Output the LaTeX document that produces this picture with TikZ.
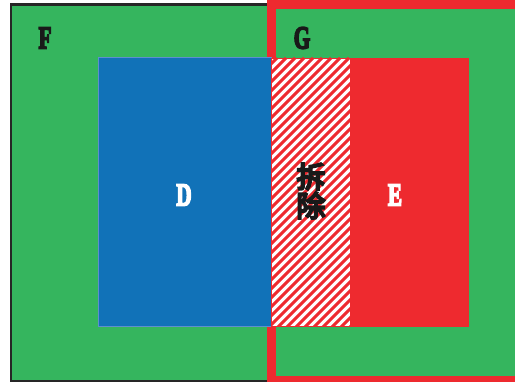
\documentclass[tikz,border=0pt]{standalone}
\usepackage{fontspec}
\setmainfont{Liberation Serif}
\newfontfamily\lblfont{Liberation Serif}[BoldFeatures={FakeBold=6}]
\newfontfamily\cjk{Noto Sans CJK SC}[UprightFeatures={FakeBold=7}]
\definecolor{grn}{HTML}{35B55E}
\definecolor{blu}{HTML}{1172B8}
\definecolor{bluedge}{HTML}{5E8ECF}
\definecolor{rd}{HTML}{EE2A2F}
\tikzset{
  lbl/.style={font=\lblfont\bfseries\fontsize{32}{32}\selectfont, inner sep=0pt},
}
\newcommand{\cond}[1]{\scalebox{0.66}[1]{#1}}
\begin{document}
\begin{tikzpicture}[x=1pt,y=-1pt]
\useasboundingbox (0,0) rectangle (515,382);
% F
\draw[fill=grn, draw=black!85, line width=2.2] (11,4.5) rectangle (560,381);
% G
\draw[fill=grn, draw=rd, line width=9] (271.5,4.5) rectangle (560,380.5);
% D
\draw[fill=blu, draw=bluedge, line width=1] (98,58) rectangle (271,326.5);
% E
\fill[rd] (350,58) rectangle (469,327);
% hatch
\fill[white] (271,58) rectangle (350,327);
\begin{scope}
\clip (271,58) rectangle (350,327);
\foreach \a in {-280,-271,...,360} {
  \draw[rd, line width=3.1] (\a,327) -- (\a+269,58);
}
\end{scope}
\draw[rd, line width=1] (271.5,58.5) rectangle (350,326.5);
% labels
\node[lbl, text=black!90] (F) at (45,38) {\cond{F}};
\node[lbl, text=black!90] (G) at (302,38) {\cond{G}};
\node[lbl, text=white] (D) at (184,195) {\cond{D}};
\node[lbl, text=white] (E) at (395,195) {\cond{E}};
\node[inner sep=0pt, text=black!90, font=\cjk\fontsize{29}{29}\selectfont, align=center] (X) at (311,191) {拆\\除};
\end{tikzpicture}
\end{document}
